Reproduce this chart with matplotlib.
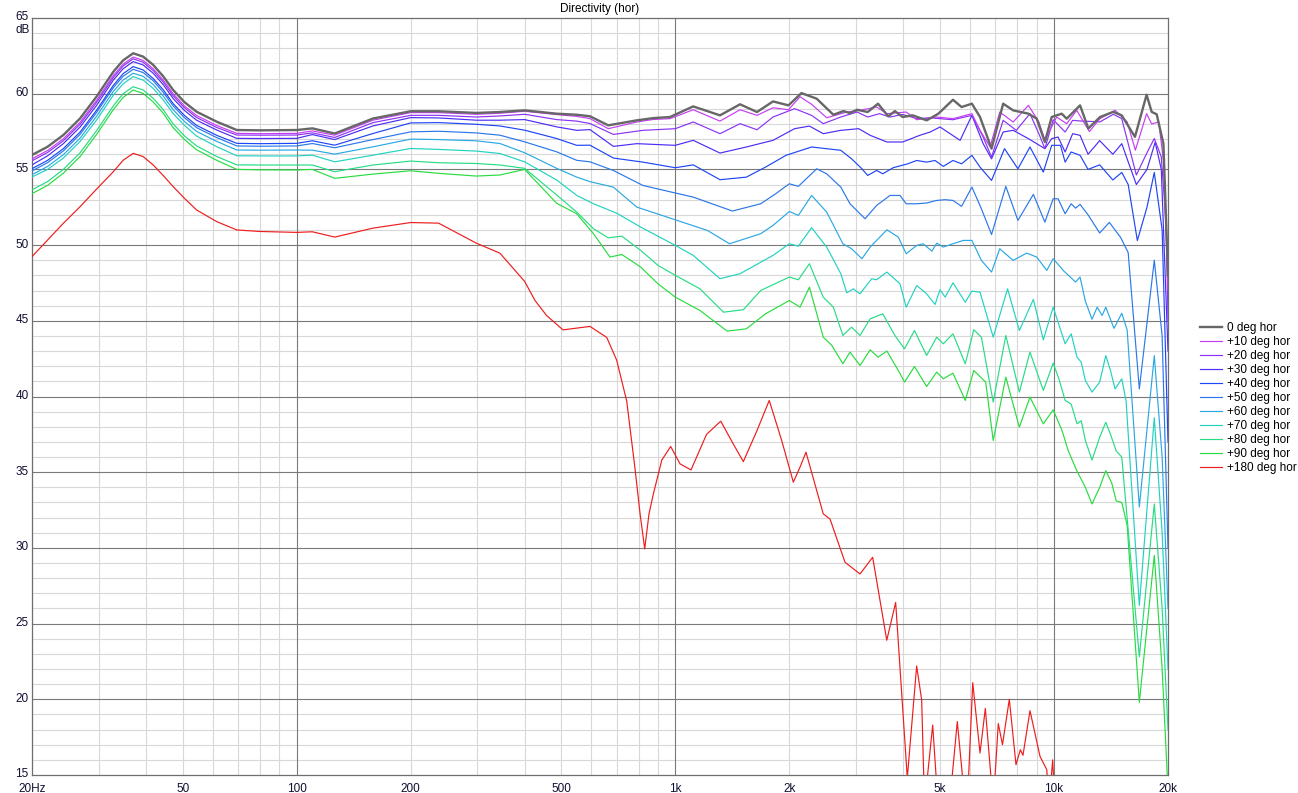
import matplotlib
matplotlib.use('Agg')
import matplotlib.pyplot as plt
import matplotlib.transforms as mtransforms

plt.rcParams['font.family'] = ['Liberation Sans', 'DejaVu Sans']

# frequency points shared by all curves up to 400 Hz
freq_low = [20, 22, 24.2, 26.8, 29.6, 32.8, 34.8, 37, 39.3, 41.8, 44.4, 47.2, 50.5, 54.4, 61.5, 69.5,
            80, 100, 110, 126, 159, 200, 237, 298, 344, 400]

# ---- 0 deg ----
low_0 = [55.95, 56.50, 57.27, 58.37, 59.80, 61.45, 62.20, 62.67, 62.45, 61.90, 61.15, 60.24, 59.45,
         58.81, 58.15, 57.60, 57.58, 57.60, 57.71, 57.37, 58.36, 58.84, 58.84, 58.73, 58.79, 58.90]
hi_0 = [(486, 58.68), (549, 58.61), (595, 58.51), (665, 57.91), (791, 58.24), (875, 58.39), (968, 58.46),
        (1115, 59.16), (1312, 58.57), (1482, 59.30), (1643, 58.79), (1811, 59.49), (1990, 59.23),
        (2153, 60.04), (2362, 59.67), (2614, 58.61), (2777, 58.85), (2895, 58.72), (3020, 58.94),
        (3220, 58.79), (3430, 59.34), (3650, 58.50), (3800, 58.85), (3985, 58.46), (4236, 58.57),
        (4610, 58.24), (4950, 58.68), (5410, 59.60), (5700, 59.12), (6070, 59.34), (6377, 58.46),
        (6840, 56.37), (7340, 59.34), (7800, 58.90), (8560, 58.68), (9000, 58.35), (9460, 56.81),
        (9860, 58.46), (10480, 58.68), (10800, 58.35), (11716, 59.23), (12320, 57.7), (13228, 58.46),
        (14340, 58.8), (15090, 58.57), (16360, 57.15), (17560, 59.93), (18110, 58.8), (18670, 58.64),
        (19450, 56.7), (20000, 48.0)]

# ---- +10 deg ----
low_10 = [55.70, 56.25, 57.02, 58.12, 59.55, 61.20, 61.95, 62.42, 62.20, 61.65, 60.90, 59.99, 59.20,
          58.56, 57.90, 57.38, 57.36, 57.38, 57.54, 57.26, 58.25, 58.75, 58.75, 58.64, 58.71, 58.84]
hi_10 = [(486, 58.62), (549, 58.50), (595, 58.36), (665, 57.69), (791, 58.13), (875, 58.30), (968, 58.35),
         (1115, 58.94), (1312, 58.19), (1482, 58.94), (1643, 58.57), (1811, 59.07), (1990, 58.94),
         (2134, 59.80), (2290, 59.30), (2510, 58.41), (2836, 58.79), (3074, 58.9), (3400, 59.12),
         (3620, 58.68), (4070, 58.79), (4340, 58.28), (4900, 58.46), (5410, 58.35), (6070, 58.68),
         (6377, 57.58), (6780, 56.48), (7190, 58.79), (7800, 58.13), (8560, 59.23), (9120, 58.13),
         (9460, 56.92), (10160, 58.46), (10800, 58.02), (11480, 58.90), (12400, 57.5), (13228, 58.36),
         (14500, 58.9), (15600, 58.14), (16400, 56.27), (17560, 58.68), (18110, 58.0), (18900, 58.14),
         (19450, 55.6), (20000, 47.0)]

# ---- +20 deg ----
low_20 = [55.57, 56.12, 56.89, 57.99, 59.42, 61.07, 61.83, 62.30, 62.08, 61.52, 60.78, 59.86, 59.08,
          58.43, 57.77, 57.27, 57.26, 57.27, 57.41, 57.11, 58.09, 58.57, 58.57, 58.46, 58.53, 58.64]
hi_20 = [(486, 58.29), (549, 58.19), (595, 58.03), (686, 57.31), (821, 57.58), (1000, 57.69), (1115, 58.13),
         (1312, 57.36), (1482, 58.02), (1643, 57.62), (1811, 58.46), (2065, 59.01), (2290, 58.57),
         (2458, 58.02), (2735, 58.46), (3020, 58.79), (3220, 58.46), (3460, 58.68), (3690, 58.46),
         (3985, 58.63), (4340, 58.35), (4710, 58.41), (5000, 58.35), (5410, 58.28), (6070, 58.57),
         (6500, 57.14), (6840, 55.81), (7340, 58.24), (7950, 57.58), (8640, 58.68), (9120, 57.36),
         (9460, 56.37), (9950, 58.28), (10700, 57.47), (11200, 58.24), (11716, 58.2), (13228, 58.14),
         (14340, 58.64), (15090, 58.36), (16500, 54.63), (17560, 56.05), (18400, 57.04), (19200, 55.83),
         (19800, 51.2), (20000, 45.0)]

# ---- +30 deg ----
low_30 = [55.30, 55.90, 56.70, 57.80, 59.22, 60.90, 61.65, 62.12, 61.90, 61.35, 60.60, 59.68, 58.90,
          58.25, 57.60, 57.05, 57.04, 57.05, 57.30, 56.97, 57.87, 58.42, 58.40, 58.25, 58.25, 58.29]
hi_30 = [(486, 57.81), (549, 57.58), (595, 57.63), (686, 56.52), (791, 56.70), (1000, 56.59), (1115, 56.92),
         (1312, 56.08), (1540, 56.48), (1811, 56.92), (2065, 57.69), (2260, 57.86), (2458, 57.36),
         (2735, 57.58), (3050, 57.69), (3270, 57.25), (3620, 56.81), (3985, 56.81), (4420, 57.25),
         (4710, 57.47), (5000, 57.80), (5650, 56.92), (6070, 58.57), (6500, 56.70), (6840, 55.70),
         (7340, 57.47), (7800, 57.58), (8560, 57.03), (9460, 56.37), (9860, 57.03), (10250, 57.14),
         (10700, 56.15), (11200, 57.36), (11716, 57.25), (12300, 56.0), (13200, 56.9), (14300, 56.0),
         (15100, 56.7), (15700, 55.5), (16500, 54.0), (17600, 55.0), (18500, 56.8), (19200, 55.0),
         (20000, 43.0)]

# ---- +40 deg ----
low_40 = [55.05, 55.60, 56.37, 57.47, 58.90, 60.55, 61.32, 61.79, 61.57, 61.00, 60.27, 59.34, 58.57,
          57.91, 57.25, 56.72, 56.70, 56.72, 56.89, 56.60, 57.37, 58.07, 58.09, 57.98, 57.87, 57.59]
hi_40 = [(486, 57.04), (549, 56.59), (595, 56.60), (686, 55.75), (821, 55.48), (1000, 55.11), (1115, 55.3),
         (1312, 54.32), (1540, 54.49), (1730, 55.15), (1960, 55.93), (2290, 56.48), (2735, 56.26),
         (2920, 55.70), (3110, 55.04), (3220, 54.60), (3400, 54.93), (3530, 54.71), (3760, 55.11),
         (4110, 55.37), (4340, 55.59), (4610, 55.48), (4850, 55.59), (5100, 55.20), (5410, 55.59),
         (5700, 55.37), (6070, 55.93), (6377, 55.15), (6840, 54.27), (7400, 56.37), (8030, 55.04),
         (8640, 56.48), (9370, 54.82), (9860, 56.59), (10400, 56.59), (10700, 55.48), (11100, 56.15),
         (11716, 55.93), (12300, 55.0), (13200, 55.3), (14300, 54.3), (15100, 54.8), (15700, 54.0),
         (16600, 50.3), (17600, 52.5), (18400, 54.8), (19300, 51.0), (20000, 37.0)]

# ---- +50 deg ----
low_50 = [54.90, 55.45, 56.22, 57.32, 58.75, 60.40, 61.15, 61.61, 61.40, 60.85, 60.10, 59.19, 58.42,
          57.76, 57.10, 56.55, 56.53, 56.55, 56.71, 56.43, 56.97, 57.48, 57.52, 57.41, 57.26, 56.82]
hi_50 = [(486, 56.16), (549, 55.6), (595, 55.5), (686, 54.93), (821, 53.94), (1000, 53.44), (1115, 53.17),
         (1415, 52.25), (1680, 52.73), (1840, 53.39), (2000, 54.05), (2113, 53.88), (2362, 55.04),
         (2510, 54.71), (2735, 53.83), (2892, 52.73), (3170, 51.74), (3400, 52.62), (3690, 53.28),
         (3920, 53.28), (4070, 52.73), (4340, 52.73), (4610, 52.78), (4900, 52.95), (5160, 53.0),
         (5410, 52.95), (5700, 52.56), (6070, 53.83), (6430, 52.40), (6840, 50.70), (7460, 53.88),
         (8030, 51.63), (8820, 53.35), (9460, 51.52), (9950, 53.06), (10250, 53.06), (10700, 52.07),
         (11100, 52.73), (11400, 52.44), (11716, 52.69), (12300, 52.0), (13200, 50.8), (14000, 51.5),
         (15000, 50.5), (15700, 49.5), (16800, 40.5), (18400, 49.0), (19300, 44.0), (20000, 30.0)]

# ---- +60 deg ----
low_60 = [54.65, 55.20, 55.97, 57.07, 58.50, 60.15, 60.90, 61.35, 61.15, 60.60, 59.85, 58.94, 58.17,
          57.51, 56.85, 56.28, 56.27, 56.28, 56.27, 56.01, 56.49, 57.00, 56.97, 56.89, 56.71, 56.10]
hi_60 = [(486, 55.07), (549, 54.49), (595, 54.19), (686, 53.83), (791, 52.51), (1000, 51.67), (1215, 50.97),
         (1390, 50.09), (1680, 50.75), (1811, 51.30), (2000, 52.22), (2113, 51.96), (2290, 53.28),
         (2510, 52.18), (2770, 50.09), (2920, 49.76), (3110, 49.10), (3270, 49.87), (3620, 51.01),
         (3880, 50.53), (4070, 49.43), (4340, 49.98), (4510, 50.09), (4760, 49.60), (4900, 50.13),
         (5100, 49.87), (5410, 50.09), (5760, 50.31), (6070, 50.31), (6430, 48.99), (6840, 48.22),
         (7190, 49.76), (7800, 48.99), (8470, 49.47), (9000, 49.21), (9570, 48.33), (9950, 49.10),
         (10600, 48.30), (11400, 47.56), (11716, 47.89), (12100, 46.3), (12600, 45.1), (13000, 45.9),
         (13400, 45.35), (13700, 45.9), (14400, 44.5), (15100, 45.5), (15600, 44.4), (16800, 32.7),
         (18400, 42.7), (19300, 36.0), (20000, 26.0)]

# ---- +70 deg ----
low_70 = [54.50, 55.00, 55.75, 56.85, 58.25, 59.90, 60.65, 61.13, 60.90, 60.35, 59.60, 58.68, 57.92,
          57.20, 56.50, 55.90, 55.89, 55.89, 55.94, 55.50, 55.94, 56.38, 56.32, 56.21, 56.05, 55.50]
hi_70 = [(486, 54.30), (549, 53.28), (608, 52.73), (700, 52.11), (810, 51.19), (1000, 49.98), (1115, 49.32),
         (1312, 47.78), (1482, 48.11), (1811, 49.32), (2000, 50.09), (2113, 49.93), (2290, 51.15),
         (2510, 49.87), (2735, 48.11), (2836, 46.85), (2952, 47.11), (3074, 46.78), (3300, 47.78),
         (3400, 47.71), (3620, 48.22), (3920, 47.44), (4070, 45.90), (4340, 47.33), (4610, 46.78),
         (4850, 46.08), (5000, 47.05), (5160, 46.56), (5410, 47.51), (5830, 46.23), (6070, 46.96),
         (6377, 46.89), (6910, 43.92), (7540, 47.11), (8100, 44.36), (8820, 46.41), (9370, 43.74),
         (9950, 45.90), (10700, 43.48), (11100, 44.14), (11500, 42.6), (11800, 42.27), (12100, 41.06),
         (12600, 40.29), (13200, 40.95), (13700, 42.7), (14100, 41.7), (14500, 40.5), (15100, 41.17),
         (15500, 39.7), (16800, 26.2), (18400, 38.6), (19300, 31.0), (20000, 22.0)]

# ---- +80 deg ----
low_80 = [53.65, 54.20, 55.00, 56.10, 57.55, 59.20, 60.00, 60.46, 60.25, 59.70, 58.95, 58.00, 57.22,
          56.55, 55.85, 55.30, 55.29, 55.29, 55.29, 54.85, 55.29, 55.55, 55.44, 55.39, 55.29, 55.07]
hi_80 = [(486, 53.31), (549, 52.18), (608, 51.08), (665, 50.48), (722, 50.59), (810, 49.65), (900, 48.66),
         (1000, 48.00), (1162, 47.11), (1340, 45.57), (1512, 45.73), (1680, 47.0), (2000, 47.89),
         (2113, 47.71), (2260, 48.77), (2458, 46.56), (2614, 45.90), (2770, 44.03), (2920, 44.58),
         (3074, 44.03), (3270, 45.13), (3530, 45.46), (3800, 44.03), (4030, 43.15), (4280, 44.36),
         (4610, 42.71), (4900, 43.92), (5100, 43.48), (5410, 44.14), (5830, 42.16), (6140, 44.41),
         (6430, 43.92), (6910, 39.63), (7460, 44.03), (8100, 40.29), (8640, 42.93), (9370, 40.40),
         (9950, 42.2), (10300, 41.17), (10700, 39.74), (11100, 39.5), (11500, 38.2), (11800, 38.4),
         (12100, 37.1), (12600, 35.8), (13200, 37.3), (13700, 38.3), (14100, 37.5), (14600, 36.4),
         (15100, 36.0), (16800, 22.8), (18400, 32.9), (19300, 26.0), (20000, 18.0)]

# ---- +90 deg ----
low_90 = [53.40, 53.95, 54.75, 55.85, 57.30, 58.95, 59.75, 60.24, 60.02, 59.45, 58.72, 57.75, 56.98,
          56.30, 55.60, 55.00, 54.97, 54.96, 55.00, 54.41, 54.69, 54.91, 54.74, 54.56, 54.63, 55.00]
hi_90 = [(486, 52.76), (549, 52.07), (608, 50.75), (672, 49.21), (722, 49.38), (810, 48.55), (900, 47.44),
         (1000, 46.56), (1162, 45.68), (1370, 44.32), (1540, 44.47), (1730, 45.46), (2000, 46.34),
         (2134, 45.90), (2260, 47.22), (2458, 43.92), (2590, 43.37), (2770, 42.16), (2892, 42.93),
         (3074, 42.05), (3270, 43.08), (3430, 42.60), (3620, 43.0), (3880, 41.72), (4030, 40.95),
         (4280, 41.98), (4610, 40.66), (4900, 41.61), (5100, 41.17), (5410, 41.54), (5830, 39.74),
         (6140, 41.72), (6600, 40.95), (6910, 37.09), (7460, 41.28), (8100, 37.97), (8640, 39.96),
         (9370, 38.19), (9950, 39.12), (10500, 37.75), (10900, 36.43), (11480, 35.11), (12100, 34.0),
         (12600, 32.9), (13200, 34.0), (13700, 35.1), (14200, 34.3), (14600, 33.1), (15100, 33.0),
         (15600, 31.5), (16800, 19.8), (18400, 29.5), (19300, 22.0), (20000, 14.0)]

# ---- +180 deg ----
low_180 = [49.24, 50.34, 51.44, 52.54, 53.69, 54.85, 55.6, 56.06, 55.85, 55.29, 54.6, 53.86, 53.1,
           52.32, 51.55, 51.0, 50.9, 50.84, 50.88, 50.53, 51.12, 51.49, 51.45, 50.13, 49.47, 47.6]
hi_180 = [(426, 46.34), (457, 45.35), (505, 44.4), (595, 44.63), (659, 43.9), (700, 42.4), (744, 39.7),
          (782, 35.3), (807, 32.25), (830, 29.93), (852, 32.25), (875, 33.57), (921, 35.8), (972, 36.7),
          (1029, 35.55), (1100, 35.15), (1209, 37.5), (1318, 38.37), (1422, 36.87), (1512, 35.7),
          (1643, 37.75), (1770, 39.74), (1909, 37.1), (2049, 34.34), (2134, 35.33), (2213, 36.32),
          (2458, 32.25), (2562, 31.9), (2806, 29.05), (3074, 28.28), (3320, 29.38), (3617, 23.9),
          (3818, 26.4), (4098, 14.8), (4338, 22.2), (4472, 19.96), (4550, 13.0), (4782, 18.3),
          (4970, 12.0), (5250, 12.0), (5554, 18.53), (5880, 12.0), (6100, 21.1), (6377, 16.45),
          (6586, 19.4), (6912, 13.0), (7126, 18.4), (7310, 17.0), (7620, 20.0), (7936, 15.68),
          (8150, 16.67), (8280, 16.3), (8641, 19.25), (9184, 16.23), (9570, 15.35), (9700, 13.0),
          (9920, 16.0), (10100, 12.0), (11000, 8.0), (20000, 5.0)]

labels = ['0 deg hor', '+10 deg hor', '+20 deg hor', '+30 deg hor', '+40 deg hor', '+50 deg hor',
          '+60 deg hor', '+70 deg hor', '+80 deg hor', '+90 deg hor', '+180 deg hor']
colors = ['#676767', '#c63cf5', '#8a32f5', '#4b2df5', '#1e46f5', '#2a78ea', '#2aa8e4',
          '#22d2c0', '#26dc86', '#28dc40', '#ee1c1c']
lows = [low_0, low_10, low_20, low_30, low_40, low_50, low_60, low_70, low_80, low_90, low_180]
his = [hi_0, hi_10, hi_20, hi_30, hi_40, hi_50, hi_60, hi_70, hi_80, hi_90, hi_180]

xtick_pos = [20, 50, 100, 200, 500, 1000, 2000, 5000, 10000, 20000]
xtick_lab = ['20Hz', '50', '100', '200', '500', '1k', '2k', '5k', '10k', '20k']
ytick_pos = [15, 20, 25, 30, 35, 40, 45, 50, 55, 60, 65]

W, H = 1298, 793
fig = plt.figure(figsize=(W / 100, H / 100), dpi=100)
ax = fig.add_axes([32 / W, 18 / H, (1168 - 32) / W, (775 - 18) / H])
ax.set_xscale('log')
ax.set_xlim(20, 20000)
ax.set_ylim(15, 65)

# grid: light minor lines, darker decade / 5 dB lines
minor_x = [m * d for d in (10, 100, 1000) for m in range(2, 10)]
for f in minor_x:
    ax.axvline(f, color='#d8d8d8', lw=0.8, zorder=0)
for f in (100, 1000, 10000):
    ax.axvline(f, color='#7a7a7a', lw=0.8, zorder=0.5)
for v in range(16, 65):
    if v % 5:
        ax.axhline(v, color='#d8d8d8', lw=0.8, zorder=0)
for v in range(20, 65, 5):
    ax.axhline(v, color='#7a7a7a', lw=0.8, zorder=0.5)

handles = []
for i in range(len(labels)):
    fr = freq_low[:len(lows[i])] + [p[0] for p in his[i]]
    db = lows[i] + [p[1] for p in his[i]]
    if i == 0:
        ln, = ax.plot(fr, db, color=colors[i], lw=1.7, zorder=20, label=labels[i],
                      solid_joinstyle='round')
    else:
        ln, = ax.plot(fr, db, color=colors[i], lw=0.85, zorder=20 - i, label=labels[i],
                      solid_joinstyle='round')
    handles.append(ln)

ax.set_xticks(xtick_pos)
ax.set_xticklabels(xtick_lab)
ax.xaxis.set_minor_locator(matplotlib.ticker.NullLocator())
ax.set_yticks(ytick_pos)
ax.tick_params(length=0, labelsize=8.5, colors='#101030')
ax.tick_params(axis='x', pad=5.5)
ax.tick_params(axis='y', pad=2.5)
shift = mtransforms.ScaledTranslation(0, 1.5 / 72, fig.dpi_scale_trans)
for lab in ax.get_yticklabels():
    lab.set_transform(lab.get_transform() + shift)
for s in ax.spines.values():
    s.set_color('#6e6e6e')
    s.set_linewidth(0.9)

ax.set_title('Directivity (hor)', fontsize=8.5, pad=4)
fig.text(30 / W, 1 - 30 / H, 'dB', ha='right', va='center', fontsize=8.5, color='#101030')

fig.legend(handles=handles, labels=labels, loc='upper left',
           bbox_to_anchor=(1194 / W, 1 - 316 / H), frameon=False, fontsize=8.5,
           handlelength=1.9, handletextpad=0.4, labelspacing=0.17, borderpad=0)

fig.savefig('out.png', dpi=100)
